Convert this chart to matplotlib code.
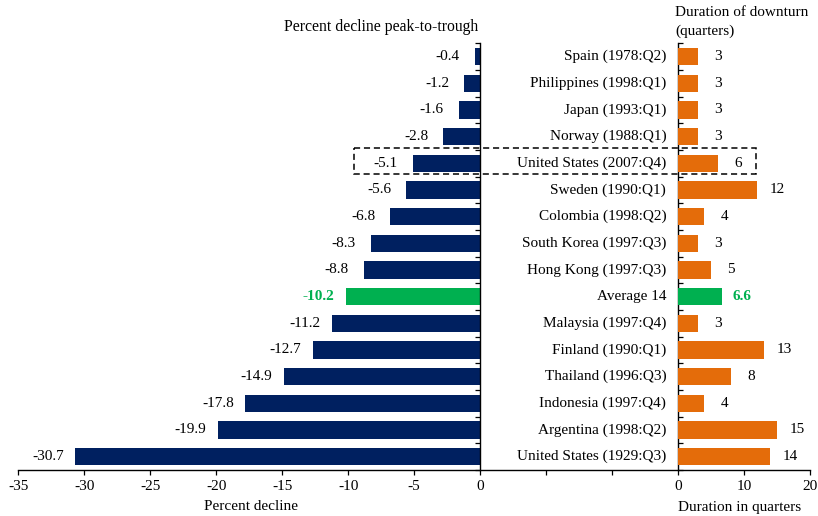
import matplotlib
import numpy as np

matplotlib.use("Agg")
import matplotlib.pyplot as plt  # noqa: E402
from matplotlib.patches import Rectangle  # noqa: E402

plt.rcParams["font.family"] = ["Liberation Serif", "DejaVu Serif"]
plt.rcParams["font.size"] = 11

COUNTRIES = [
    "Spain (1978:Q2)",
    "Philippines (1998:Q1)",
    "Japan (1993:Q1)",
    "Norway (1988:Q1)",
    "United States (2007:Q4)",
    "Sweden (1990:Q1)",
    "Colombia (1998:Q2)",
    "South Korea (1997:Q3)",
    "Hong Kong (1997:Q3)",
    "Average 14",
    "Malaysia (1997:Q4)",
    "Finland (1990:Q1)",
    "Thailand (1996:Q3)",
    "Indonesia (1997:Q4)",
    "Argentina (1998:Q2)",
    "United States (1929:Q3)",
]
DECLINE = [-0.4, -1.2, -1.6, -2.8, -5.1, -5.6, -6.8, -8.3, -8.8, -10.2,
           -11.2, -12.7, -14.9, -17.8, -19.9, -30.7]
DURATION = [3, 3, 3, 3, 6, 12, 4, 3, 5, 6.6, 3, 13, 8, 4, 15, 14]
AVG_IDX = 9
HIGHLIGHT_IDX = 4

LEFT_TICKS = [-35, -30, -25, -20, -15, -10, -5, 0]
RIGHT_TICK_LABELS = ["0", "10", "20"]

NAVY = "#002060"
ORANGE = "#E46C0A"
GREEN = "#00B050"

W, H = 818, 516
# pixel layout
X0, X1 = 18.3, 810.0          # -35 on the left scale, 20 on the right scale
XR0 = 678.0                   # 0 of the duration scale
Y_TOP, Y_BOT = 43.3, 470.0


def fmt(v):
    return f"{v:.0f}" if float(v).is_integer() else f"{v:.1f}"


def main():
    n = len(COUNTRIES)
    rows = np.arange(n)
    fig = plt.figure(figsize=(W / 100, H / 100), dpi=100)

    bottom = 1 - Y_BOT / H
    height = (Y_BOT - Y_TOP) / H
    ax = fig.add_axes([X0 / W, bottom, (X1 - X0) / W, height])
    axr = fig.add_axes([XR0 / W, bottom, (X1 - XR0) / W, height])

    # combined axis: -35..0 for decline, gap, then duration at half scale
    ax.set_xlim(-35, 25)
    ax.set_ylim(n - 0.5, -0.5)
    axr.set_xlim(0, 20)
    axr.set_ylim(n - 0.5, -0.5)
    axr.axis("off")
    axr.patch.set_visible(False)

    left_cols = [GREEN if i == AVG_IDX else NAVY for i in rows]
    right_cols = [GREEN if i == AVG_IDX else ORANGE for i in rows]
    ax.barh(rows, DECLINE, height=0.65, color=left_cols, zorder=2)
    axr.barh(rows, DURATION, height=0.65, color=right_cols, zorder=2)

    for i, (v, d, name) in enumerate(zip(DECLINE, DURATION, COUNTRIES)):
        avg = i == AVG_IDX
        kw = dict(color=GREEN, fontweight="bold") if avg else dict(color="black")
        ax.annotate(fmt(v), xy=(v, i), xytext=(-19.5, 0), textcoords="offset points",
                    ha="center", va="center", **kw)
        axr.annotate(fmt(d), xy=(d, i), xytext=(14.5, 0), textcoords="offset points",
                     ha="center", va="center", **kw)
        ax.annotate(name, xy=(15, i), xytext=(-8.5, 0), textcoords="offset points",
                    ha="right", va="center")

    # spines: zero lines of both panels carry the row ticks
    ax.spines["top"].set_visible(False)
    ax.spines["left"].set_position(("data", 0))
    ax.spines["right"].set_position(("data", 15))
    for s in ("left", "right", "bottom"):
        ax.spines[s].set_linewidth(1.0)
    ax.set_yticks(np.arange(-0.5, n, 1.0))
    ax.tick_params(axis="y", left=True, right=True, labelleft=False,
                   labelright=False, direction="out", length=3.6, width=0.9)

    ax.set_xticks(np.arange(-35, 26, 5))
    ax.set_xticklabels([str(t) for t in LEFT_TICKS] + ["", ""] + RIGHT_TICK_LABELS)
    ax.tick_params(axis="x", direction="out", length=3.6, width=0.9, pad=3.5)

    # dashed box around the current US downturn
    ax.add_patch(Rectangle((-9.55, HIGHLIGHT_IDX - 0.56), 30.43, 0.97,
                           fill=False, edgecolor="black", linestyle=(0, (4, 2.5)),
                           linewidth=1.1, clip_on=False, zorder=3))

    fig.text(478 / W, 1 - 27 / H, "Percent decline peak-to-trough",
             ha="right", va="center", fontsize=11.3)
    fig.text(675 / W, 1 - 13 / H, "Duration of downturn",
             ha="left", va="center")
    fig.text(675 / W, 1 - 31 / H, "(quarters)",
             ha="left", va="center")
    fig.text(251 / W, 1 - 507 / H, "Percent decline", ha="center", va="center")
    fig.text(740 / W, 1 - 507 / H, "Duration in quarters", ha="center", va="center")

    fig.savefig("out.png", dpi=100)
    plt.close(fig)


if __name__ == "__main__":
    main()
